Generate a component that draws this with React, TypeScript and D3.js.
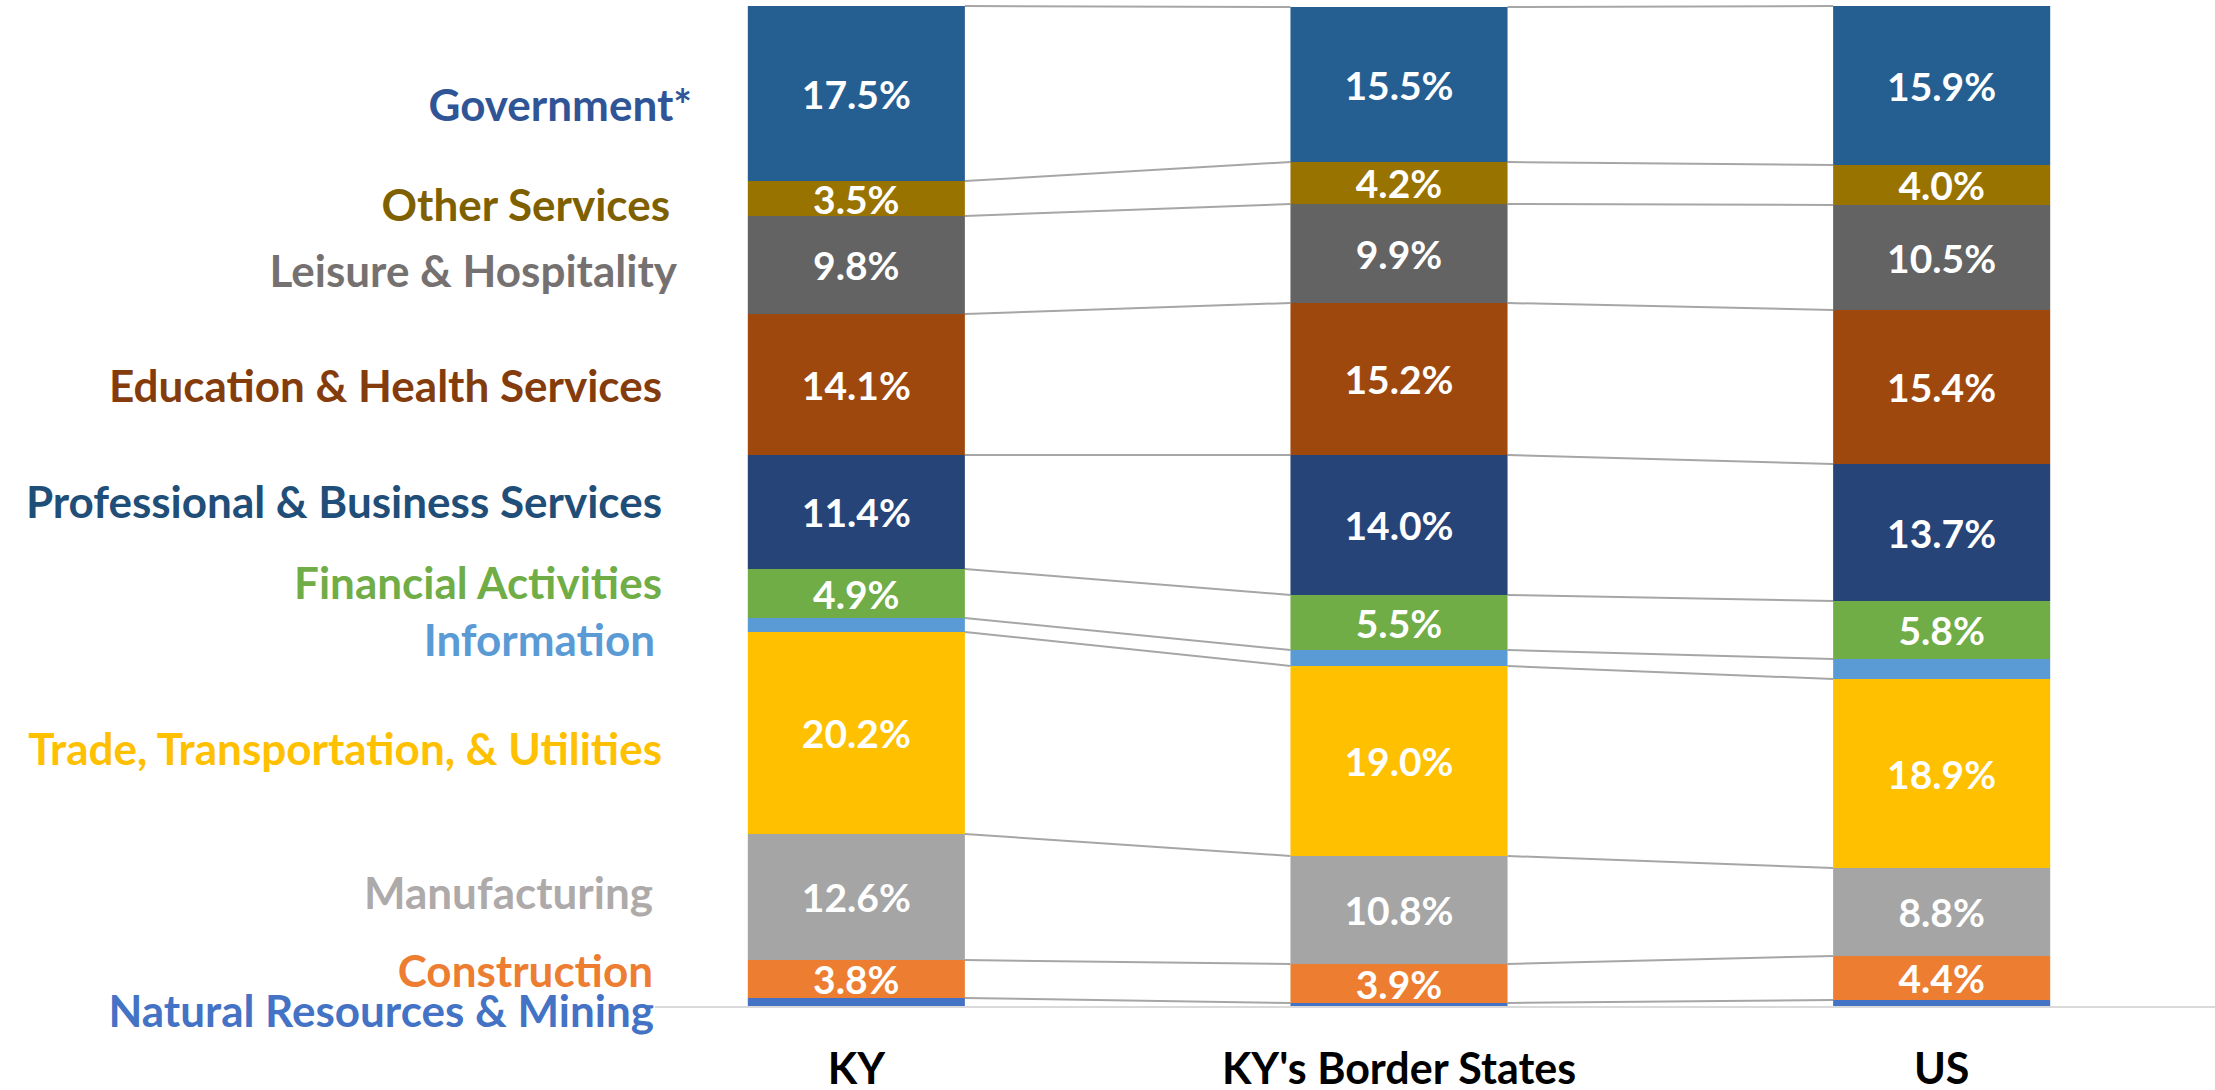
import * as d3 from "d3";

const categories = ["KY", "KY's Border States", "US"];

// stacked bottom to top
const industries = [
  "Natural Resources & Mining",
  "Construction",
  "Manufacturing",
  "Trade, Transportation, & Utilities",
  "Information",
  "Financial Activities",
  "Professional & Business Services",
  "Education & Health Services",
  "Leisure & Hospitality",
  "Other Services",
  "Government*",
];

const kyValues = [0.8, 3.8, 12.6, 20.2, 1.4, 4.9, 11.4, 14.1, 9.8, 3.5, 17.5];
const borderValues = [0.3, 3.9, 10.8, 19.0, 1.6, 5.5, 14.0, 15.2, 9.9, 4.2, 15.5];
const usValues = [0.6, 4.4, 8.8, 18.9, 2.0, 5.8, 13.7, 15.4, 10.5, 4.0, 15.9];

// segments too thin to carry a value label
const unlabeled = ["Natural Resources & Mining", "Information"];

const FILL: Record<string, string> = {
  "Natural Resources & Mining": "#4472c4",
  Construction: "#ed7d31",
  Manufacturing: "#a5a5a5",
  "Trade, Transportation, & Utilities": "#ffc000",
  Information: "#5b9bd5",
  "Financial Activities": "#70ad47",
  "Professional & Business Services": "#264478",
  "Education & Health Services": "#9e480e",
  "Leisure & Hospitality": "#636363",
  "Other Services": "#997300",
  "Government*": "#255e91",
};

const LABEL_COLOR: Record<string, string> = {
  "Natural Resources & Mining": "#4472c4",
  Construction: "#ed7d31",
  Manufacturing: "#aeaaaa",
  "Trade, Transportation, & Utilities": "#ffc000",
  Information: "#5b9bd5",
  "Financial Activities": "#70ad47",
  "Professional & Business Services": "#1f4e79",
  "Education & Health Services": "#843c0c",
  "Leisure & Hospitality": "#767171",
  "Other Services": "#7f6000",
  "Government*": "#2f5597",
};

// hand placed text boxes on the left (right edge, baseline)
const LABEL_POS: Record<string, [number, number]> = {
  "Government*": [692, 121],
  "Other Services": [670, 221],
  "Leisure & Hospitality": [677, 287],
  "Education & Health Services": [662, 402],
  "Professional & Business Services": [662, 518],
  "Financial Activities": [662, 599],
  Information: [655, 656],
  "Trade, Transportation, & Utilities": [662, 765],
  Manufacturing: [653, 909],
  Construction: [653, 987],
  "Natural Resources & Mining": [654, 1027],
};

const WIDTH = 2215;
const HEIGHT = 1090;
const FONT = "Lato, 'Open Sans', sans-serif";

export default function App() {
  const rows = categories.map((c, i) => {
    const vals = [kyValues, borderValues, usValues][i];
    const r: Record<string, number | string> = { category: c };
    industries.forEach((k, j) => (r[k] = vals[j]));
    return r;
  });

  const series = d3.stack<Record<string, number | string>>().keys(industries)(rows as any);

  const x = d3
    .scaleBand()
    .domain(categories)
    .range([585, 2213])
    .paddingInner(0.6)
    .paddingOuter(0.3);
  const y = d3.scaleLinear().domain([0, 100]).range([1006, 6]);
  const bw = x.bandwidth();

  return (
    <div style={{ position: "absolute", left: 0, top: 0 }}>
      <svg width={WIDTH} height={HEIGHT} style={{ display: "block", background: "#fff" }}>
        {/* category axis line */}
        <line x1={655} x2={WIDTH} y1={y(0) + 1} y2={y(0) + 1} stroke="#d9d9d9" strokeWidth={2} />

        {/* series lines between bars */}
        <g stroke="#a6a6a6" strokeWidth={2} fill="none">
          {series.map((s) =>
            categories.slice(0, -1).map((c, i) => {
              const next = categories[i + 1];
              return (
                <line
                  key={s.key + c}
                  x1={(x(c) as number) + bw}
                  y1={y(s[i][1])}
                  x2={x(next) as number}
                  y2={y(s[i + 1][1])}
                />
              );
            })
          )}
        </g>

        {/* stacked bars */}
        {series.map((s) => (
          <g key={s.key} fill={FILL[s.key]}>
            {s.map((d, i) => (
              <rect
                key={categories[i]}
                x={x(categories[i])}
                y={y(d[1])}
                width={bw}
                height={y(d[0]) - y(d[1])}
              />
            ))}
          </g>
        ))}

        {/* value labels */}
        <g fill="#fff" fontFamily={FONT} fontWeight="bold" fontSize={39} textAnchor="middle">
          {series
            .filter((s) => !unlabeled.includes(s.key))
            .map((s) =>
              s.map((d, i) => (
                <text
                  key={s.key + i}
                  x={(x(categories[i]) as number) + bw / 2}
                  y={(y(d[0]) + y(d[1])) / 2}
                  dominantBaseline="central"
                >
                  {(d[1] - d[0]).toFixed(1)}%
                </text>
              ))
            )}
        </g>

        {/* industry labels */}
        <g fontFamily={FONT} fontWeight="bold" fontSize={44} textAnchor="end">
          {industries.map((k) => (
            <text key={k} x={LABEL_POS[k][0]} y={LABEL_POS[k][1]} fill={LABEL_COLOR[k]}>
              {k}
            </text>
          ))}
        </g>

        {/* category labels */}
        <g fontFamily={FONT} fontWeight="bold" fontSize={43} textAnchor="middle" fill="#000">
          {categories.map((c) => (
            <text key={c} x={(x(c) as number) + bw / 2} y={1084}>
              {c}
            </text>
          ))}
        </g>
      </svg>
    </div>
  );
}
